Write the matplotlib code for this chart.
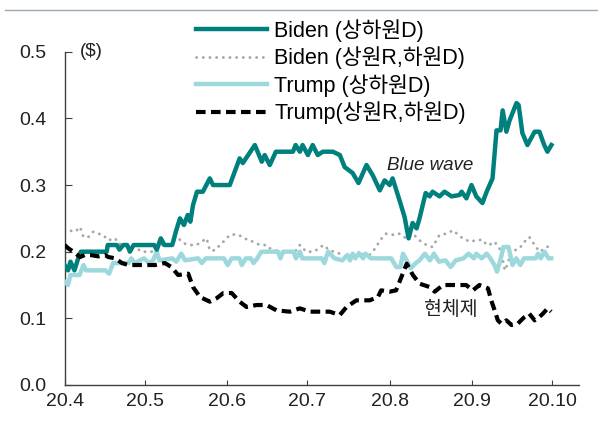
import matplotlib

matplotlib.use('Agg')
import matplotlib.pyplot as plt
import pandas as pd

plt.rcParams['font.family'] = ['Liberation Sans', 'Noto Sans CJK KR']
plt.rcParams['axes.unicode_minus'] = False

start = pd.Timestamp('2020-04-01')

# days since 2020-04-01 and contract prices ($)
biden_d_days = [0, 1.3, 2.2, 3.7, 5.1, 6.1, 15.8, 16.2, 19.6, 20.6, 22.0, 23.5, 24.5, 25.9, 33.6, 34.6, 36.1,
                37.5, 40.4, 41.9, 43.3, 44.8, 46.2, 47.2, 48.2, 49.7, 51.9, 54.5, 55.7, 62.0, 65.7, 66.9, 71.4,
                74.0, 75.1, 77.0, 79.3, 85.7, 86.7, 88.3, 89.3, 91.3, 93.1, 95.0, 96.9, 100.7, 103.3, 105.1,
                108.1, 110.3, 113.3, 115.6, 118.3, 120.1, 122.0, 123.1, 125.7, 127.6, 129.1, 130.6, 132.1,
                133.2, 135.5, 137.0, 138.1, 140.7, 142.6, 145.2, 148.2, 149.0, 150.8, 152.7, 154.5, 156.8,
                158.4, 159.5, 160.6, 162.1, 163.6, 164.4, 165.8, 167.0, 169.6, 170.4, 171.8, 173.7, 176.4,
                178.2, 180.0, 181.2, 182.7]
biden_d = [0.18, 0.172, 0.185, 0.172, 0.19, 0.20, 0.20, 0.21, 0.21, 0.203, 0.21, 0.21, 0.20, 0.21, 0.21,
           0.203, 0.22, 0.21, 0.21, 0.232, 0.25, 0.24, 0.255, 0.245, 0.27, 0.29, 0.29, 0.31, 0.30, 0.30, 0.34,
           0.333, 0.36, 0.335, 0.345, 0.33, 0.35, 0.35, 0.36, 0.35, 0.36, 0.345, 0.36, 0.345, 0.35, 0.35,
           0.345, 0.327, 0.318, 0.303, 0.33, 0.315, 0.292, 0.307, 0.30, 0.31, 0.277, 0.252, 0.22, 0.243,
           0.235, 0.25, 0.288, 0.283, 0.29, 0.283, 0.29, 0.283, 0.285, 0.29, 0.28, 0.30, 0.283, 0.273, 0.29,
           0.30, 0.31, 0.382, 0.382, 0.412, 0.38, 0.397, 0.423, 0.42, 0.378, 0.36, 0.38, 0.38, 0.36, 0.35,
           0.36]

biden_r_days = [0, 1.4, 4.0, 5.8, 7.1, 8.9, 10.8, 12.7, 14.5, 16.4, 19.0, 20.1, 22.6, 26.4, 28.9, 32.7, 35.2,
                38.9, 42.6, 45.2, 47.7, 49.5, 53.3, 54.5, 56.4, 58.3, 59.6, 62.0, 64.5, 67.0, 68.8, 70.8, 73.3,
                75.8, 77.0, 80.7, 84.5, 87.0, 88.3, 90.7, 93.2, 95.7, 97.0, 99.5, 103.3, 107.1, 109.5, 112.7,
                114.5, 117.0, 118.3, 120.7, 123.9, 125.7, 128.2, 130.7, 133.2, 135.8, 138.1, 140.7, 143.2,
                145.8, 148.7, 152.0, 154.5, 156.9, 158.4, 159.4, 161.3, 163.2, 164.5, 165.2, 166.1, 167.6,
                169.5, 170.7, 172.6, 174.4, 176.4, 178.2, 180.6, 182.0]
biden_r = [0.23, 0.232, 0.23, 0.237, 0.222, 0.222, 0.23, 0.227, 0.225, 0.217, 0.22, 0.212, 0.21, 0.207,
           0.20, 0.20, 0.21, 0.21, 0.22, 0.212, 0.21, 0.21, 0.22, 0.202, 0.202, 0.21, 0.215, 0.225, 0.226,
           0.222, 0.217, 0.215, 0.21, 0.21, 0.205, 0.20, 0.20, 0.202, 0.21, 0.20, 0.20, 0.205, 0.21, 0.202,
           0.197, 0.19, 0.195, 0.197, 0.195, 0.207, 0.217, 0.227, 0.225, 0.227, 0.22, 0.227, 0.217, 0.21,
           0.207, 0.225, 0.227, 0.232, 0.222, 0.215, 0.217, 0.218, 0.21, 0.21, 0.215, 0.205, 0.187, 0.172,
           0.18, 0.20, 0.203, 0.205, 0.215, 0.222, 0.21, 0.20, 0.205, 0.21]

trump_d_days = [0, 1.3, 2.2, 5.6, 7.1, 8.0, 15.3, 16.7, 18.2, 24.0, 25.0, 26.4, 29.8, 31.7, 33.2, 34.6, 35.6,
                40.4, 41.9, 43.8, 45.2, 50.1, 51.5, 53.0, 59.8, 61.2, 62.7, 65.6, 66.5, 68.0, 69.9, 70.9, 72.3,
                73.8, 80.1, 81.0, 82.0, 85.9, 86.8, 88.3, 89.2, 96.5, 97.5, 98.9, 101.3, 104.2, 106.2, 107.1,
                108.1, 109.1, 110.5, 112.0, 113.0, 114.9, 122.6, 124.5, 126.0, 127.0, 128.4, 129.9, 131.8,
                133.2, 135.2, 137.1, 138.6, 140.5, 142.9, 144.9, 146.8, 149.7, 151.6, 153.6, 154.5, 156.5,
                158.4, 159.8, 161.3, 162.3, 163.7, 164.7, 166.6, 168.1, 169.5, 171.0, 172.4, 176.8, 177.7,
                178.7, 180.1, 181.6, 182.6]
trump_d = [0.155, 0.15, 0.165, 0.165, 0.18, 0.172, 0.172, 0.167, 0.183, 0.183, 0.19, 0.183, 0.19, 0.183,
           0.187, 0.20, 0.187, 0.19, 0.185, 0.197, 0.187, 0.19, 0.183, 0.19, 0.19, 0.18, 0.19, 0.19, 0.18,
           0.19, 0.19, 0.183, 0.19, 0.20, 0.20, 0.19, 0.20, 0.20, 0.19, 0.20, 0.19, 0.19, 0.183, 0.20, 0.19,
           0.187, 0.195, 0.187, 0.197, 0.19, 0.198, 0.19, 0.197, 0.19, 0.19, 0.177, 0.177, 0.197, 0.187,
           0.175, 0.183, 0.187, 0.197, 0.187, 0.197, 0.185, 0.187, 0.177, 0.187, 0.19, 0.197, 0.19, 0.197,
           0.19, 0.197, 0.19, 0.18, 0.17, 0.19, 0.207, 0.207, 0.18, 0.19, 0.18, 0.19, 0.19, 0.197, 0.19,
           0.20, 0.19, 0.19]

trump_r_days = [0, 1.4, 3.3, 5.8, 7.6, 9.6, 12.7, 15.2, 16.4, 19.0, 21.5, 23.9, 34.0, 37.6, 40.1, 42.6,
                46.4, 48.2, 50.8, 54.5, 57.0, 59.6, 62.7, 65.7, 68.3, 72.0, 75.8, 79.5, 84.5, 88.3, 92.0, 97.0,
                99.5, 103.3, 105.8, 109.5, 114.5, 117.6, 118.8, 122.0, 124.4, 126.4, 128.4, 130.7, 133.2,
                137.0, 138.9, 142.0, 148.2, 150.7, 153.2, 155.7, 158.9, 160.1, 161.4, 162.6, 163.9, 165.8,
                167.7, 170.1, 171.3, 172.6, 174.4, 176.4, 177.6, 179.5, 181.3, 182.6]
trump_r = [0.21, 0.205, 0.20, 0.192, 0.195, 0.195, 0.193, 0.195, 0.192, 0.19, 0.183, 0.18, 0.18, 0.183,
           0.177, 0.165, 0.167, 0.147, 0.132, 0.125, 0.13, 0.138, 0.138, 0.125, 0.117, 0.12, 0.12, 0.112,
           0.11, 0.115, 0.11, 0.11, 0.11, 0.105, 0.117, 0.127, 0.127, 0.132, 0.142, 0.14, 0.142, 0.162, 0.182,
           0.165, 0.152, 0.147, 0.14, 0.15, 0.15, 0.15, 0.142, 0.15, 0.145, 0.127, 0.112, 0.097, 0.092, 0.097,
           0.09, 0.092, 0.097, 0.102, 0.107, 0.097, 0.10, 0.107, 0.115, 0.11]

month_ticks = ['2020-04-01', '2020-05-01', '2020-06-01', '2020-07-01', '2020-08-01', '2020-09-01', '2020-10-01']
month_labels = ['20.4', '20.5', '20.6', '20.7', '20.8', '20.9', '20.10']
y_ticks = [0.0, 0.1, 0.2, 0.3, 0.4, 0.5]


def to_dates(days):
    return start + pd.to_timedelta(days, unit='D')


fig = plt.figure(figsize=(5.98, 4.24), dpi=100)
ax = fig.add_axes([0.108, 0.092, 0.86, 0.786])

l1, = ax.plot(to_dates(biden_d_days), biden_d, color='#00807c', lw=3.2, solid_joinstyle='round',
              label='Biden (상하원D)', zorder=4)
l2, = ax.plot(to_dates(biden_r_days), biden_r, color='#a6a6a6', lw=2.0, linestyle=(0, (0.1, 2.3)),
              dash_capstyle='round', label='Biden (상원R,하원D)', zorder=2)
l3, = ax.plot(to_dates(trump_d_days), trump_d, color='#9dd9dc', lw=3.2, solid_joinstyle='round',
              label='Trump (상하원D)', zorder=3)
l4, = ax.plot(to_dates(trump_r_days), trump_r, color='black', lw=3.0, linestyle=(0, (2.3, 1.3)),
              label='Trump(상원R,하원D)', zorder=5)

ax.set_xlim(start, pd.Timestamp('2020-10-11'))
ax.set_ylim(0, 0.5)
ax.set_xticks(pd.to_datetime(month_ticks))
ax.set_xticklabels(month_labels)
ax.set_yticks(y_ticks)
ax.set_yticklabels([f'{v:.1f}' for v in y_ticks])

for side in ['top', 'right']:
    ax.spines[side].set_visible(False)
for side in ['left', 'bottom']:
    ax.spines[side].set_color('#404040')
    ax.spines[side].set_linewidth(1.0)

ax.tick_params(axis='y', direction='in', length=5, width=0.8, color='#404040', labelsize=14,
               pad=13, labelcolor='#222222')
ax.tick_params(axis='x', direction='in', length=3.5, width=0.8, color='#404040', labelsize=14,
               pad=6, labelcolor='#222222')

ax.text(0.03, 0.5, '($)', transform=ax.get_yaxis_transform(), fontsize=13.5, color='#222222',
        va='center', ha='left')
ax.text(pd.Timestamp('2020-08-16'), 0.33, 'Blue wave', fontsize=13.5, style='italic',
        color='#222222', ha='center', va='center')
ax.text(pd.Timestamp('2020-08-24'), 0.112, '현체제', fontsize=14, style='italic',
        color='#222222', ha='center', va='center')

fig.legend(handles=[l1, l2, l3, l4], loc='upper left', bbox_to_anchor=(196 / 598, 1 - 19 / 424),
           frameon=False, fontsize=15.5, handlelength=3.3, handletextpad=0.33, labelspacing=0.22,
           borderpad=0, borderaxespad=0)

# thin rule along the top edge
fig.add_artist(plt.Line2D([0.008, 1.0], [1 - 9.5 / 424, 1 - 9.5 / 424], color='#9aa9b8', lw=1.0,
                          transform=fig.transFigure))

fig.savefig('out.png', dpi=100)
